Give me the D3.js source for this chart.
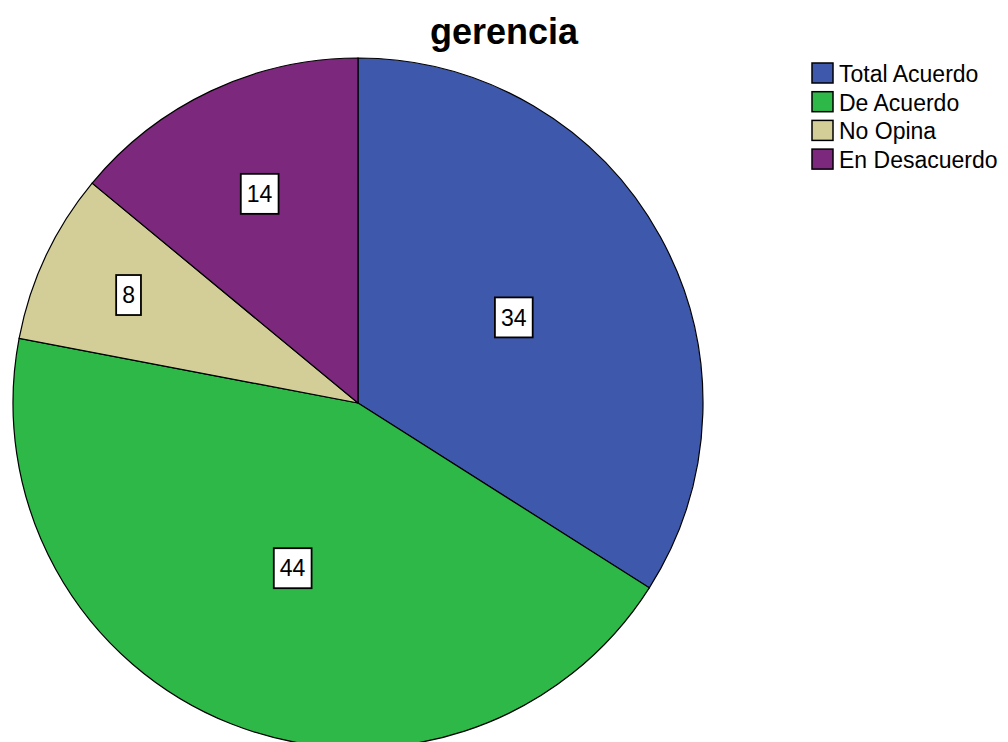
<!DOCTYPE html>
<html>
<head>
<meta charset="utf-8">
<script src="https://cdn.jsdelivr.net/npm/d3@7"></script>
<style>
  body { margin: 0; background: #fff; }
  text { font-family: "Liberation Sans", Arial, sans-serif; }
</style>
</head>
<body>
<svg id="pie"></svg>
<script>
// Data
const categories = ['Total Acuerdo', 'De Acuerdo', 'No Opina', 'En Desacuerdo'];
const values = [34, 44, 8, 14];
const colors = ['#3e58ac', '#2eb848', '#d3ce97', '#7c287d'];

const width = 1008, height = 742;
const cx = 358, cy = 403, radius = 345;

const svg = d3.select('#pie')
    .attr('width', width)
    .attr('height', height);

const data = categories.map((c, i) => ({category: c, value: values[i]}));

const colorScale = d3.scaleOrdinal()
    .domain(categories)
    .range(colors);

const pie = d3.pie()
    .value(d => d.value)
    .sort(null);

const arc = d3.arc()
    .innerRadius(0)
    .outerRadius(radius);

// label distance from centre as a fraction of the radius (small slices sit further out)
const labelFrac = d => d.value >= 30 ? 0.515 : d.value >= 12 ? 0.67 : 0.735;

const g = svg.append('g')
    .attr('transform', `translate(${cx},${cy})`);

const arcs = pie(data);

g.selectAll('path')
    .data(arcs)
    .enter()
    .append('path')
    .attr('d', arc)
    .attr('fill', d => colorScale(d.data.category))
    .attr('stroke', '#000')
    .attr('stroke-width', 1.2);

// value labels with boxes
const labels = g.selectAll('.label')
    .data(arcs)
    .enter()
    .append('g')
    .attr('class', 'label')
    .attr('transform', d => {
        const r = radius * labelFrac(d.data);
        return `translate(${d3.arc().innerRadius(r).outerRadius(r).centroid(d)})`;
    });

labels.append('text')
    .attr('text-anchor', 'middle')
    .attr('dy', '0.36em')
    .style('font-size', '23px')
    .style('fill', '#000')
    .text(d => d.data.value);

labels.each(function() {
    const grp = d3.select(this);
    const bb = grp.select('text').node().getBBox();
    grp.insert('rect', 'text')
        .attr('x', bb.x - 6)
        .attr('y', -20)
        .attr('width', bb.width + 12)
        .attr('height', 40)
        .attr('fill', '#fff')
        .attr('stroke', '#000')
        .attr('stroke-width', 1.8);
});

// Title
svg.append('text')
    .attr('x', 504)
    .attr('y', 44)
    .attr('text-anchor', 'middle')
    .style('font-size', '36px')
    .style('font-weight', 'bold')
    .text('gerencia');

// Legend
const legend = svg.append('g')
    .attr('transform', 'translate(812,63)');

const rows = legend.selectAll('.row')
    .data(categories)
    .enter()
    .append('g')
    .attr('class', 'row')
    .attr('transform', (d, i) => `translate(0,${i * 28.7})`);

rows.append('rect')
    .attr('width', 21)
    .attr('height', 20)
    .attr('fill', d => colorScale(d))
    .attr('stroke', '#000')
    .attr('stroke-width', 1.5);

rows.append('text')
    .attr('x', 27)
    .attr('y', 19)
    .style('font-size', '23px')
    .text(d => d);
</script>
</body>
</html>
